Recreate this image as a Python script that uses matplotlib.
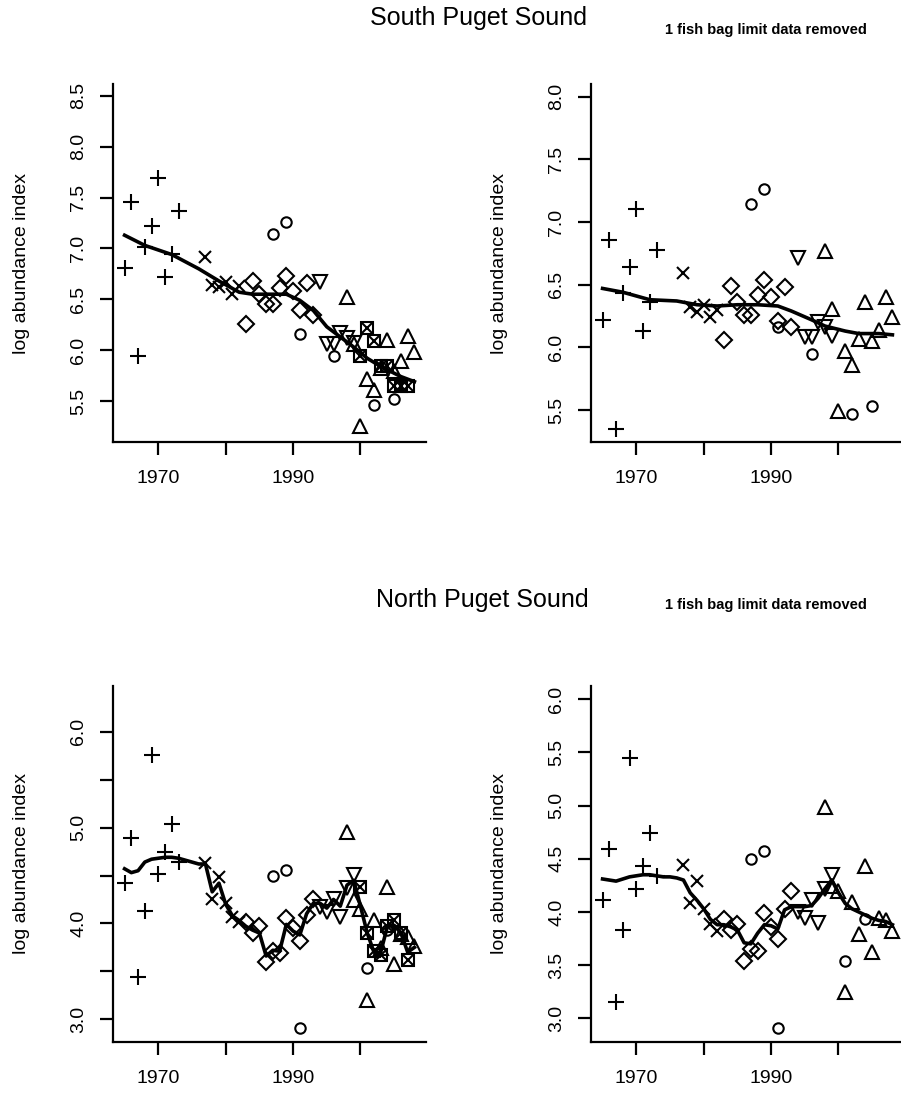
import matplotlib
matplotlib.use("Agg")
import matplotlib.pyplot as plt

plt.rcParams['font.family'] = ['Liberation Sans', 'DejaVu Sans']

W, H = 901, 1095

# ---------------- data ----------------
years_plus = [1965, 1966, 1967, 1968, 1969, 1970, 1971, 1972, 1973]
years_cross = [1977, 1978, 1979, 1980, 1981, 1982]
years_diamond = [1983, 1984, 1985, 1986, 1987, 1988, 1989, 1990, 1991, 1992, 1993]
years_down = [1994, 1995, 1996, 1997, 1998, 1999]
years_up = [1998, 1999, 2000, 2001, 2002, 2003, 2004, 2005, 2006, 2007, 2008]
years_box = [2000, 2001, 2002, 2003, 2004, 2005, 2006, 2007]

# South Puget Sound, all data
s_plus = [6.81, 7.46, 5.94, 7.01, 7.22, 7.69, 6.72, 6.95, 7.37]
s_cross = [6.92, 6.64, 6.62, 6.67, 6.55, 6.63]
s_diamond = [6.26, 6.68, 6.55, 6.45, 6.45, 6.61, 6.73, 6.58, 6.39, 6.66, 6.35]
s_circle_yr = [1987, 1989, 1991, 1996, 2002, 2005]
s_circle = [7.14, 7.26, 6.16, 5.94, 5.46, 5.52]
s_down = [6.67, 6.06, 6.06, 6.17, 6.12, 6.07]
s_up = [6.52, 6.06, 5.25, 5.72, 5.61, 5.82, 6.10, 5.80, 5.89, 6.14, 5.98]
s_box = [5.94, 6.22, 6.09, 5.84, 5.84, 5.65, 5.65, 5.65]
s_fit_yr = [1965, 1968, 1972, 1976, 1979, 1982, 1984, 1987, 1989, 1991,
            1993, 1995, 1997, 1999, 2001, 2003, 2006, 2008]
s_fit = [7.13, 7.03, 6.94, 6.80, 6.68, 6.57, 6.55, 6.55, 6.55, 6.49,
         6.39, 6.23, 6.13, 6.03, 5.92, 5.84, 5.74, 5.69]

# South Puget Sound, 1 fish bag limit data removed
s2_plus = [6.22, 6.86, 5.35, 6.43, 6.64, 7.10, 6.13, 6.36, 6.78]
s2_cross = [6.59, 6.32, 6.28, 6.34, 6.24, 6.30]
s2_diamond = [6.06, 6.49, 6.36, 6.26, 6.26, 6.42, 6.54, 6.40, 6.21, 6.48, 6.16]
s2_circle_yr = [1987, 1989, 1991, 1996, 2002, 2005]
s2_circle = [7.14, 7.26, 6.16, 5.95, 5.47, 5.53]
s2_down = [6.71, 6.08, 6.08, 6.20, 6.16, 6.09]
s2_up = [6.77, 6.31, 5.49, 5.97, 5.86, 6.07, 6.36, 6.05, 6.14, 6.40, 6.24]
s2_fit_yr = [1965, 1968, 1972, 1976, 1979, 1982, 1985, 1988, 1991, 1993,
             1996, 1998, 2001, 2003, 2006, 2008]
s2_fit = [6.47, 6.44, 6.38, 6.37, 6.34, 6.33, 6.34, 6.34, 6.33, 6.29,
          6.22, 6.17, 6.13, 6.11, 6.11, 6.10]

# North Puget Sound, all data
n_plus = [4.42, 4.89, 3.44, 4.13, 5.76, 4.52, 4.75, 5.04, 4.64]
n_cross = [4.63, 4.26, 4.48, 4.21, 4.07, 4.01]
n_diamond = [4.02, 3.90, 3.97, 3.60, 3.71, 3.69, 4.06, 3.95, 3.82, 4.09, 4.26]
n_circle_yr = [1987, 1989, 1991, 2001, 2004]
n_circle = [4.49, 4.56, 2.91, 3.54, 3.93]
n_down = [4.17, 4.12, 4.26, 4.07, 4.37, 4.51]
n_up = [4.95, 4.24, 4.15, 3.20, 4.04, 3.74, 4.38, 3.58, 3.89, 3.86, 3.76]
n_box = [4.38, 3.90, 3.71, 3.67, 3.97, 4.04, 3.90, 3.62]
n_fit_yr = list(range(1965, 2009))
n_fit = [4.57, 4.53, 4.55, 4.64, 4.67, 4.68, 4.69, 4.69, 4.68, 4.66,
         4.64, 4.62, 4.62, 4.33, 4.42, 4.20, 4.08, 4.03, 3.97, 3.93,
         3.90, 3.66, 3.72, 3.71, 3.99, 3.92, 3.88, 4.10, 4.21, 4.21,
         4.16, 4.25, 4.18, 4.40, 4.45, 4.18, 3.90, 3.70, 3.70, 3.97,
         3.98, 3.90, 3.70, 3.75]

# North Puget Sound, 1 fish bag limit data removed
n2_plus = [4.11, 4.59, 3.15, 3.83, 5.45, 4.22, 4.43, 4.74, 4.34]
n2_cross = [4.44, 4.08, 4.29, 4.03, 3.89, 3.82]
n2_diamond = [3.93, 3.83, 3.89, 3.54, 3.65, 3.63, 3.99, 3.86, 3.75, 4.03, 4.20]
n2_circle_yr = [1987, 1989, 1991, 2001, 2004]
n2_circle = [4.50, 4.57, 2.91, 3.54, 3.93]
n2_down = [4.00, 3.94, 4.11, 3.90, 4.22, 4.35]
n2_up = [4.99, 4.24, 4.20, 3.25, 4.09, 3.79, 4.43, 3.62, 3.94, 3.92, 3.82]
n2_fit_yr = list(range(1965, 2009))
n2_fit = [4.31, 4.30, 4.29, 4.31, 4.33, 4.34, 4.35, 4.35, 4.34, 4.33,
          4.33, 4.32, 4.30, 4.18, 4.11, 4.03, 3.93, 3.88, 3.88, 3.86,
          3.83, 3.71, 3.70, 3.80, 3.88, 3.87, 3.84, 4.02, 4.05, 4.05,
          4.05, 4.06, 4.13, 4.22, 4.30, 4.18, 4.08, 4.03, 4.00, 3.97,
          3.94, 3.92, 3.91, 3.88]

x_ticks = [1970, 1980, 1990, 2000]
x_ticklabels = ["1970", "", "1990", ""]
xlim = (1963.28, 2009.72)


def px_axes(left, top, right, bottom):
    return fig.add_axes([left / W, 1 - bottom / H, (right - left) / W, (bottom - top) / H])


def style(ax, ylim, yticks, ylabels):
    ax.set_xlim(*xlim)
    ax.set_ylim(*ylim)
    for s in ("top", "right"):
        ax.spines[s].set_visible(False)
    for s in ("left", "bottom"):
        ax.spines[s].set_linewidth(1.6)
    ax.set_xticks(x_ticks)
    ax.set_xticklabels(x_ticklabels)
    ax.set_yticks(yticks)
    ax.set_yticklabels(ylabels, rotation=90, va="center")
    ax.tick_params(direction="out", length=9.5, width=1.6, labelsize=14)
    ax.tick_params(axis="y", pad=9)
    ax.tick_params(axis="x", pad=11)
    ax.set_ylabel("log abundance index", fontsize=14)
    ax.yaxis.set_label_coords(-0.265, 0.5)


MK = dict(linestyle="none", markerfacecolor="none", markeredgecolor="black",
          markeredgewidth=1.5)


def draw(ax, plus, cross, diamond, circ_yr, circ, down, up, box, fit_yr, fit):
    ax.plot(years_plus, plus, marker="+", markersize=12, **MK)
    ax.plot(years_cross[:len(cross)], cross, marker="x", markersize=8.5, **MK)
    ax.plot(years_diamond, diamond, marker="D", markersize=8, **MK)
    ax.plot(circ_yr, circ, marker="o", markersize=7.5, **MK)
    ax.plot(years_down, down, marker="v", markersize=10, **MK)
    ax.plot(years_up, up, marker="^", markersize=10, **MK)
    if box is not None:
        ax.plot(years_box, box, marker="s", markersize=8.5, **MK)
        ax.plot(years_box, box, marker="x", markersize=6.5, **MK)
    ax.plot(fit_yr, fit, color="black", linewidth=2.6, solid_joinstyle="round")


fig = plt.figure(figsize=(W / 100, H / 100), dpi=100)

ax1 = px_axes(113, 84, 426, 442)
draw(ax1, s_plus, s_cross, s_diamond, s_circle_yr, s_circle, s_down, s_up,
     s_box, s_fit_yr, s_fit)
style(ax1, (5.097, 8.617), [5.5, 6.0, 6.5, 7.0, 7.5, 8.0, 8.5],
      ["5.5", "6.0", "6.5", "7.0", "7.5", "8.0", "8.5"])

ax2 = px_axes(591, 84, 904, 442)
draw(ax2, s2_plus, s2_cross, s2_diamond, s2_circle_yr, s2_circle, s2_down,
     s2_up, None, s2_fit_yr, s2_fit)
style(ax2, (5.245, 8.101), [5.5, 6.0, 6.5, 7.0, 7.5, 8.0],
      ["5.5", "6.0", "6.5", "7.0", "7.5", "8.0"])

ax3 = px_axes(113, 686, 426, 1042)
draw(ax3, n_plus, n_cross, n_diamond, n_circle_yr, n_circle, n_down, n_up,
     n_box, n_fit_yr, n_fit)
style(ax3, (2.763, 6.477), [3.0, 3.5, 4.0, 4.5, 5.0, 5.5, 6.0],
      ["3.0", "", "4.0", "", "5.0", "", "6.0"])

ax4 = px_axes(591, 686, 904, 1042)
draw(ax4, n2_plus, n2_cross, n2_diamond, n2_circle_yr, n2_circle, n2_down,
     n2_up, None, n2_fit_yr, n2_fit)
style(ax4, (2.777, 6.125), [3.0, 3.5, 4.0, 4.5, 5.0, 5.5, 6.0],
      ["3.0", "3.5", "4.0", "4.5", "5.0", "5.5", "6.0"])

# headings
fig.text(478 / W, 1 - 18 / H, "South Puget Sound", fontsize=18,
         ha="center", va="center")
fig.text(665 / W, 1 - 30 / H, "1 fish bag limit data removed", fontsize=10.5,
         fontweight="bold", ha="left", va="center")
fig.text(482 / W, 1 - 600 / H, "North Puget Sound", fontsize=18,
         ha="center", va="center")
fig.text(665 / W, 1 - 605 / H, "1 fish bag limit data removed", fontsize=10.5,
         fontweight="bold", ha="left", va="center")

fig.savefig("out.png", dpi=100)
